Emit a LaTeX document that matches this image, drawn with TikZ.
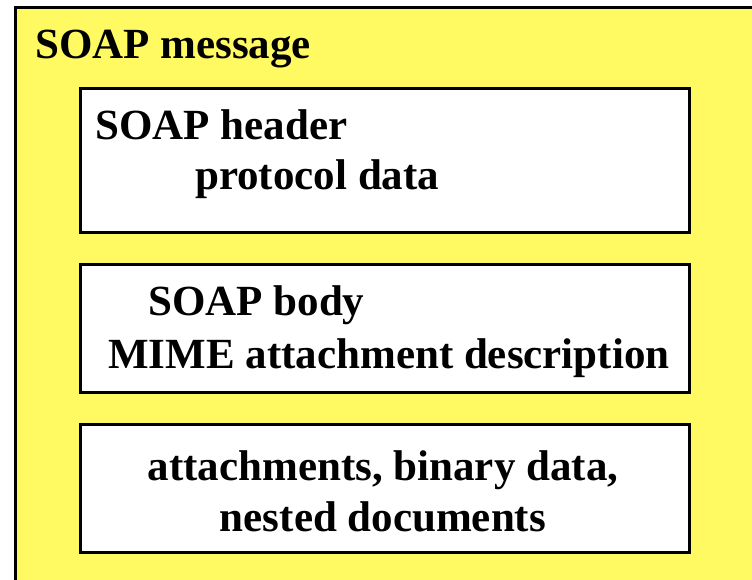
\documentclass[tikz,border=0pt]{standalone}
\usepackage{fontspec}
\setmainfont{Liberation Serif}
\definecolor{msgyellow}{RGB}{255,250,98}
\tikzset{
  partbox/.style={draw=black, line width=3pt, fill=white, anchor=north west,
    minimum width=609pt, minimum height=144pt, inner sep=0pt},
  label/.style={anchor=base west, inner sep=0pt,
    font=\bfseries\fontsize{43}{52}\selectfont}
}
\begin{document}
\begin{tikzpicture}[x=1pt,y=-1pt]
  \useasboundingbox (0,0) rectangle (752,579);
  % outer message
  \draw[line width=3pt, fill=msgyellow] (15,7) rectangle (770,600);
  \node[label] (msg) at (35,58) {SOAP message};

  % the three parts
  \node[partbox] (header) at (79,87) {};
  \node[partbox, minimum height=128pt] (body) at (79,263) {};
  \node[partbox, minimum height=128pt] (attach) at (79,423) {};

  % Label the parts
  \node[label] (hdr1) at (95,139) {SOAP header};
  \node[label] (hdr2) at (195,189) {protocol data};
  \node[label] (bdy1) at (148,315) {SOAP body};
  \node[label] (bdy2) at (108,368) {MIME attachment description};
  \node[label, anchor=base] (att1) at (383,480) {attachments, binary data,};
  \node[label, anchor=base] (att2) at (383,531) {nested documents};
\end{tikzpicture}
\end{document}
